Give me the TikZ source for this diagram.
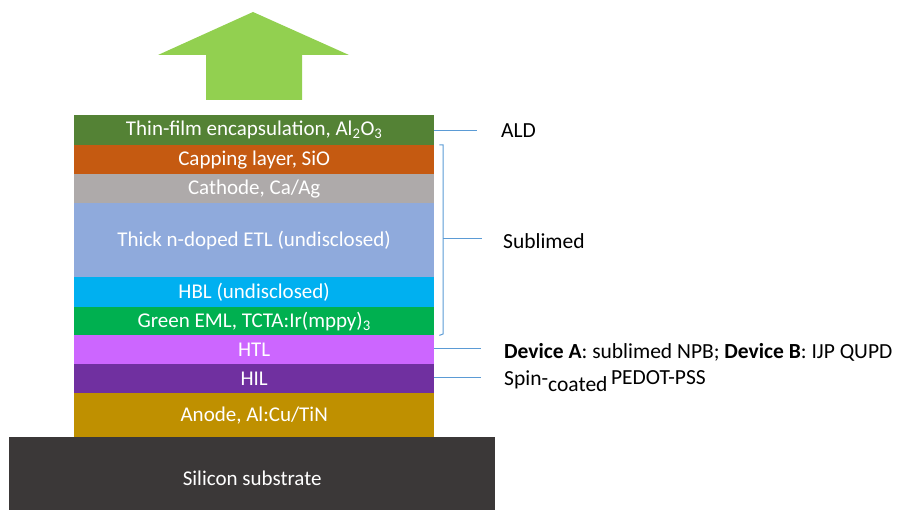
\documentclass[tikz,border=0pt]{standalone}
\usepackage{fontspec}
\setmainfont{Carlito}
\definecolor{arrowgreen}{HTML}{92D050}
\definecolor{tfe}{HTML}{548235}
\definecolor{cap}{HTML}{C55A11}
\definecolor{cath}{HTML}{AEAAAA}
\definecolor{etl}{HTML}{8FAADC}
\definecolor{hbl}{HTML}{00B0F0}
\definecolor{eml}{HTML}{00B050}
\definecolor{htl}{HTML}{CC66FF}
\definecolor{hil}{HTML}{7030A0}
\definecolor{anode}{HTML}{BF9000}
\definecolor{subst}{HTML}{3B3838}
\definecolor{linkblue}{HTML}{5B9BD5}
\begin{document}
\begin{tikzpicture}[x=1pt,y=-1pt,
  layerbox/.style={draw=none, inner sep=0pt, anchor=north west, minimum width=360pt, text=white, font=\fontsize{21}{25}\selectfont},
  sidelabel/.style={anchor=west, inner sep=0pt, text=black, font=\fontsize{21.5}{25}\selectfont},
  linkline/.style={draw=linkblue, line width=1pt}]
\useasboundingbox (0,0) rectangle (898,510);
% arrow
\fill[arrowgreen] (253,12) -- (349,55) -- (302,55) -- (302,100) -- (206,100) -- (206,55) -- (158,55) -- cycle;
% substrate
\node[layerbox, fill=subst, minimum width=486pt, minimum height=74pt] (sub) at (9,437) {\raisebox{-4pt}[\height][\depth]{Silicon substrate}};
% layers
\node[layerbox, fill=tfe, minimum height=30pt] (tfe) at (74,115) {Thin-film encapsulation, Al\textsubscript{2}O\textsubscript{3}};
\node[layerbox, fill=cap, minimum height=29pt] (cap) at (74,145) {Capping layer, SiO};
\node[layerbox, fill=cath, minimum height=29pt] (cath) at (74,174) {Cathode, Ca/Ag};
\node[layerbox, fill=etl, minimum height=74pt] (etl) at (74,203) {Thick n-doped ETL (undisclosed)};
\node[layerbox, fill=hbl, minimum height=30pt] (hbl) at (74,277) {HBL (undisclosed)};
\node[layerbox, fill=eml, minimum height=28pt] (eml) at (74,307) {Green EML, TCTA:Ir(mppy)\textsubscript{3}};
\node[layerbox, fill=htl, minimum height=29pt] (htl) at (74,335) {HTL};
\node[layerbox, fill=hil, minimum height=29pt] (hil) at (74,364) {HIL};
\node[layerbox, fill=anode, minimum height=44pt] (anode) at (74,393) {Anode, Al:Cu/TiN};
% labels
\node[sidelabel] (ald) at (501,131) {ALD};
\node[sidelabel] (subl) at (503,241) {Sublimed};
\node[sidelabel] (dev) at (504,352) {\textbf{Device A}: sublimed NPB; \textbf{Device B}: IJP QUPD};
\node[sidelabel] (spin) at (504,381) {Spin-\raisebox{-6pt}{coated}\,\raisebox{1pt}{PEDOT-PSS}};
% connectors
\coordinate (aldend) at (477,131);
\coordinate (brtop) at (443,145);
\coordinate (brbot) at (443,334);
\coordinate (brmid) at (443,239);
\coordinate (subend) at (482,239);
\coordinate (htlend) at (481,349);
\coordinate (hilend) at (481,378);
\draw[linkline] (tfe.east |- aldend) -- (aldend);
\draw[linkline] ([xshift=5pt]cap.north east) -- (brtop) -- (brbot) -- ([xshift=5pt]eml.south east);
\draw[linkline] (brmid) -- (subend);
\draw[linkline] (htl.east |- htlend) -- (htlend);
\draw[linkline] (hil.east |- hilend) -- (hilend);
\end{tikzpicture}
\end{document}
